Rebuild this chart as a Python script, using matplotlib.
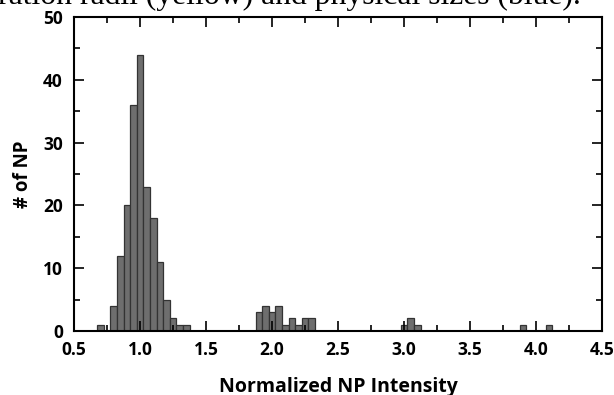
import matplotlib
matplotlib.use("Agg")
import matplotlib.pyplot as plt
import matplotlib.ticker as mtick

# histogram of normalized NP intensity, bin width 0.05
bin_centers = [0.70, 0.80, 0.85, 0.90, 0.95, 1.00, 1.05, 1.10, 1.15, 1.20, 1.25, 1.30, 1.35,
               1.90, 1.95, 2.00, 2.05, 2.10, 2.15, 2.20, 2.25, 2.30,
               3.00, 3.05, 3.10, 3.90, 4.10]
counts = [1, 4, 12, 20, 36, 44, 23, 18, 11, 5, 2, 1, 1,
          3, 4, 3, 4, 1, 2, 1, 2, 2,
          1, 2, 1, 1, 1]
bin_width = 0.05

x_label = "Normalized NP Intensity"
y_label = "# of NP"
caption = "ration radii (yellow) and physical sizes (blue)."

plt.rcParams['font.family'] = ['Open Sans', 'DejaVu Sans']

fig = plt.figure(figsize=(6.14, 3.95), dpi=100)
ax = fig.add_axes([74 / 614, 1 - 331 / 395, 528 / 614, 314 / 395])

ax.bar(bin_centers, counts, width=bin_width, color='#6e6e6e', edgecolor='#333333', linewidth=0.9)

ax.set_xlim(0.5, 4.5)
ax.set_ylim(0, 50)
ax.xaxis.set_major_locator(mtick.MultipleLocator(0.5))
ax.xaxis.set_minor_locator(mtick.MultipleLocator(0.25))
ax.yaxis.set_major_locator(mtick.MultipleLocator(10))
ax.yaxis.set_minor_locator(mtick.MultipleLocator(5))
ax.xaxis.set_major_formatter(mtick.FormatStrFormatter('%.1f'))

ax.tick_params(which='both', direction='in', top=True, right=True, width=1.2, color='black')
ax.tick_params(which='major', length=7, labelsize=12.5, pad=7)
ax.tick_params(axis='y', which='major', pad=8)
ax.tick_params(which='minor', length=4.5)
for lbl in ax.get_xticklabels() + ax.get_yticklabels():
    lbl.set_fontweight('bold')
for sp in ax.spines.values():
    sp.set_linewidth(1.5)

ax.set_xlabel(x_label, fontsize=14, fontweight='bold', labelpad=13)
ax.set_ylabel(y_label, fontsize=13.5, fontweight='bold', labelpad=7)

# clipped caption text from the page above the figure
fig.text(-0.004, 1 - 4 / 395, caption, fontsize=22.8, family='Liberation Serif',
         ha='left', va='baseline')

fig.savefig("out.png", dpi=100)
